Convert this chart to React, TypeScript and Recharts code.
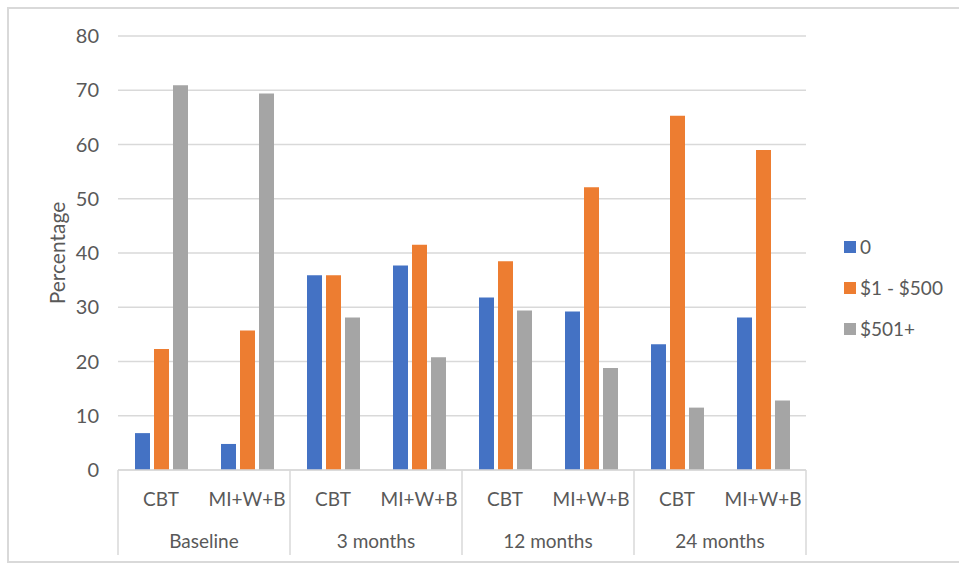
import { BarChart, Bar, XAxis, YAxis, CartesianGrid } from "recharts";

const arms = ["CBT", "MI+W+B", "CBT", "MI+W+B", "CBT", "MI+W+B", "CBT", "MI+W+B"];
const timepoints = ["Baseline", "Baseline", "3 months", "3 months", "12 months", "12 months", "24 months", "24 months"];
const zeroSpend = [6.8, 4.8, 35.9, 37.7, 31.8, 29.2, 23.2, 28.1];
const lowSpend = [22.3, 25.7, 35.9, 41.5, 38.5, 52.1, 65.3, 59.0];
const highSpend = [70.9, 69.4, 28.1, 20.8, 29.4, 18.8, 11.5, 12.8];
const yTicks = [0, 10, 20, 30, 40, 50, 60, 70, 80];

const SERIES = [
  { key: "zero", name: "0", color: "#4472C4" },
  { key: "low", name: "$1 - $500", color: "#ED7D31" },
  { key: "high", name: "$501+", color: "#A5A5A5" },
];

const FONT = "Lato, 'Open Sans', sans-serif";
const TEXT = "#595959";
const LINE = "#d9d9d9";

const data = arms.map((arm, i) => ({
  id: i,
  arm,
  time: timepoints[i],
  zero: zeroSpend[i],
  low: lowSpend[i],
  high: highSpend[i],
}));

function GroupTick(props: any) {
  const { x, y, payload, index } = props;
  const half = payload?.offset || 43;
  const row = data[index] ?? data[payload.value];
  const last = index === data.length - 1;
  return (
    <g>
      <text x={x} y={y + 28} textAnchor="middle" dominantBaseline="central" fill={TEXT} fontSize={19} fontFamily={FONT}>
        {row.arm}
      </text>
      {index % 2 === 0 && (
        <>
          <line x1={x - half} x2={x - half} y1={y} y2={y + 85} stroke={LINE} strokeWidth={1.5} />
          <text x={x + half} y={y + 70} textAnchor="middle" dominantBaseline="central" fill={TEXT} fontSize={19} fontFamily={FONT}>
            {row.time}
          </text>
        </>
      )}
      {last && <line x1={x + half} x2={x + half} y1={y} y2={y + 85} stroke={LINE} strokeWidth={1.5} />}
    </g>
  );
}

function LegendBox() {
  return (
    <div style={{ position: "absolute", left: 844, top: 226, fontFamily: FONT, fontSize: 19, color: TEXT }}>
      {SERIES.map((s) => (
        <div key={s.key} style={{ display: "flex", alignItems: "center", height: 41 }}>
          <span style={{ width: 12, height: 12, background: s.color, display: "inline-block", marginRight: 4 }} />
          <span>{s.name}</span>
        </div>
      ))}
    </div>
  );
}

export default function App() {
  return (
    <div style={{ position: "absolute", left: 0, top: 0, width: 959, height: 563, background: "#fff", overflow: "hidden" }}>
      <div
        style={{
          position: "absolute",
          left: 7,
          top: 7,
          width: 970,
          height: 552,
          border: `2px solid ${LINE}`,
        }}
      />
      <BarChart
        width={959}
        height={563}
        data={data}
        margin={{ top: 36, right: 153, bottom: 8, left: 0 }}
        barSize={15}
        barGap={4}
        style={{ position: "absolute", left: 0, top: 0 }}
      >
        <CartesianGrid vertical={false} stroke={LINE} strokeWidth={1.5} />
        <XAxis
          dataKey="id"
          type="category"
          interval={0}
          height={85}
          tickSize={0}
          tickMargin={0}
          tickLine={false}
          axisLine={{ stroke: LINE, strokeWidth: 1.5 }}
          tick={<GroupTick />}
        />
        <YAxis
          width={118}
          domain={[0, 80]}
          ticks={yTicks}
          interval={0}
          axisLine={false}
          tickLine={false}
          tickSize={0}
          tickMargin={19}
          tick={{ fill: TEXT, fontSize: 20, fontFamily: FONT }}
          label={{
            content: () => (
              <text
                x={56}
                y={253}
                transform="rotate(-90 56 253)"
                textAnchor="middle"
                dominantBaseline="central"
                fill={TEXT}
                fontSize={21}
                fontFamily={FONT}
              >
                Percentage
              </text>
            ),
          }}
        />
        {SERIES.map((s) => (
          <Bar key={s.key} dataKey={s.key} name={s.name} fill={s.color} isAnimationActive={false} />
        ))}
      </BarChart>
      <LegendBox />
    </div>
  );
}
